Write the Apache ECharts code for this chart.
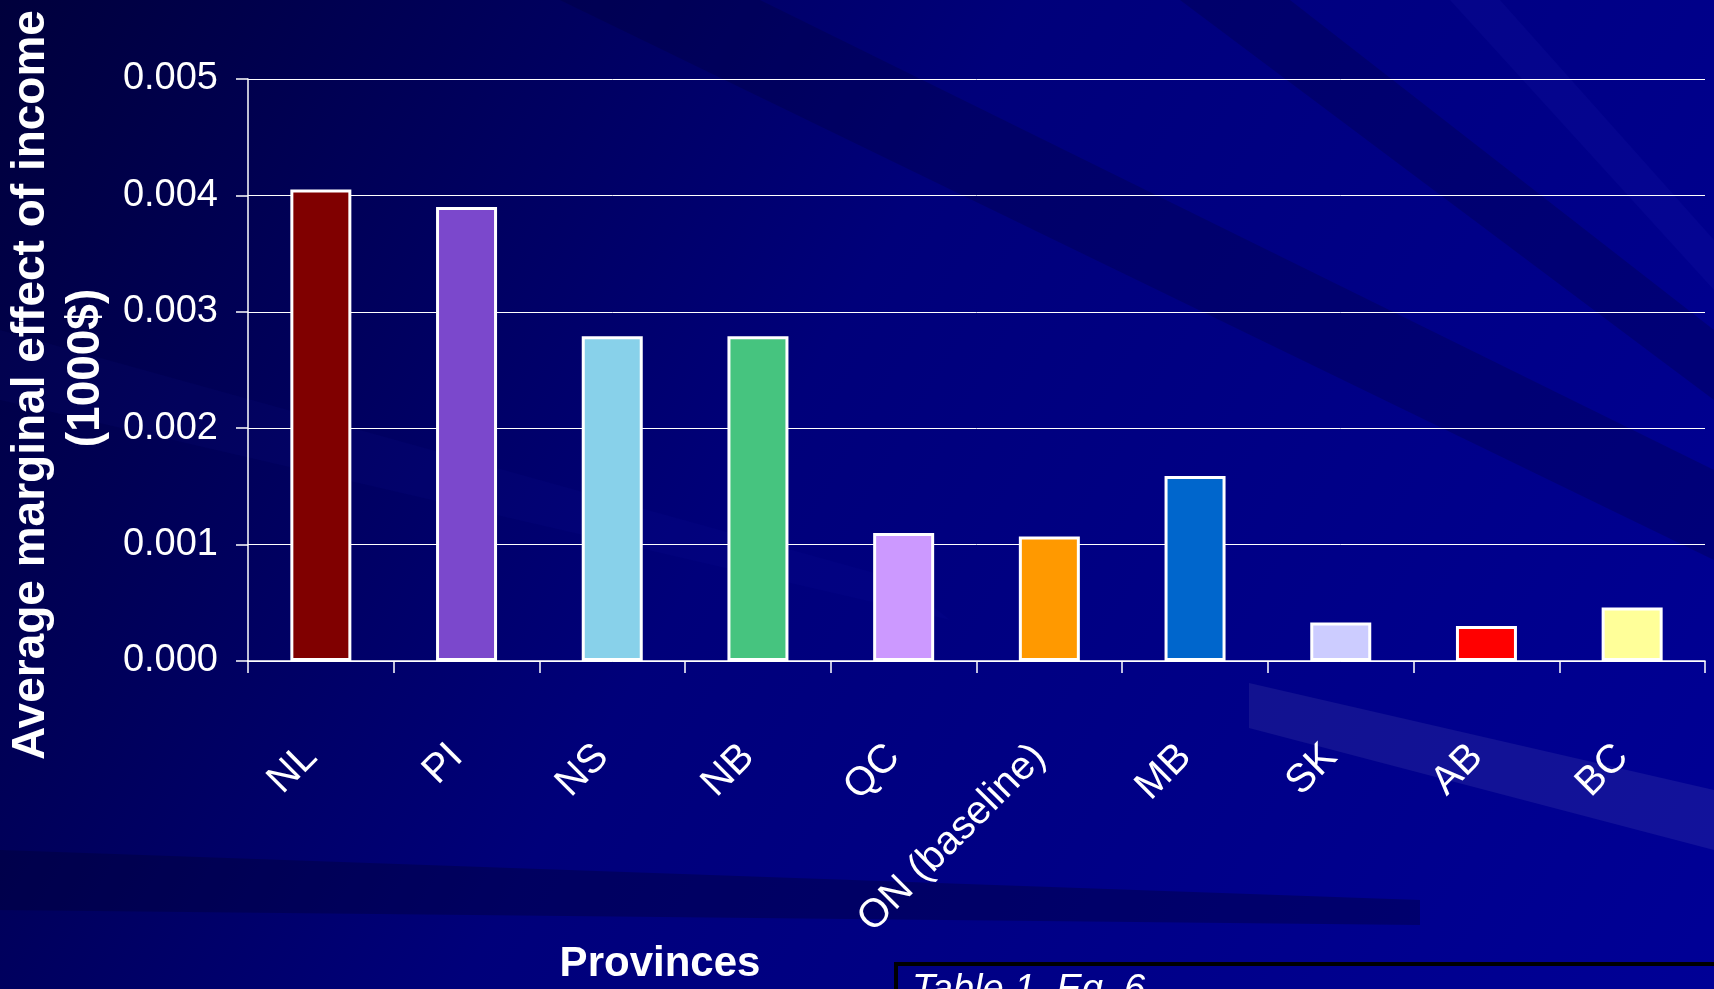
<!DOCTYPE html>
<html>
<head>
<meta charset="utf-8">
<title>Average marginal effect of income by province</title>
<script src="https://cdn.jsdelivr.net/npm/echarts@6/dist/echarts.min.js"></script>
<style>
  html, body { margin: 0; padding: 0; background: #000080; }
  #chart { width: 1714px; height: 989px; }
</style>
</head>
<body>
<div id="chart"></div>
<script>
// provinces along the x axis
const provinces = ["NL", "PI", "NS", "NB", "QC", "ON (baseline)", "MB", "SK", "AB", "BC"];
// average marginal effect of income (1000$)
const effects = [0.00405, 0.0039, 0.00279, 0.00279, 0.0011, 0.00107, 0.00159, 0.00033, 0.0003, 0.00046];
// one colour per bar
const barColors = ["#800000", "#7B48CC", "#88D1EA", "#46C47F", "#CC99FF", "#FF9900", "#0066CC", "#CCCCFF", "#FF0000", "#FFFF99"];

const FONT = "Liberation Sans, Arial, sans-serif";

const chart = echarts.init(document.getElementById("chart"));

// faint diagonal streaks of the slide background
const streaks = [
  { pts: [[560, 0], [760, 0], [1714, 470], [1714, 560]], fill: "rgba(0,0,40,0.22)" },
  { pts: [[1180, 0], [1290, 0], [1714, 330], [1714, 400]], fill: "rgba(0,0,40,0.22)" },
  { pts: [[1450, 0], [1500, 0], [1714, 240], [1714, 290]], fill: "rgba(60,60,220,0.08)" },
  { pts: [[0, 330], [0, 400], [950, 620], [900, 580]], fill: "rgba(40,40,200,0.06)" },
  { pts: [[0, 850], [0, 910], [1420, 925], [1420, 900]], fill: "rgba(0,0,50,0.35)" },
  { pts: [[1249, 683], [1714, 790], [1714, 850], [1249, 728]], fill: "rgba(255,255,255,0.07)" },
];

const option = {
  backgroundColor: new echarts.graphic.LinearGradient(0, 0, 1, 1, [
    { offset: 0, color: "#00003c" },
    { offset: 0.45, color: "#00007a" },
    { offset: 1, color: "#000096" },
  ]),
  animation: false,
  grid: { left: 248, right: 9, top: 79, bottom: 328 },
  xAxis: {
    type: "category",
    data: provinces,
    axisLine: { lineStyle: { color: "#fff", width: 1.5 } },
    axisTick: { show: true, length: 12, lineStyle: { color: "#fff", width: 1.5 } },
    axisLabel: {
      interval: 0,
      rotate: 45,
      color: "#fff",
      fontSize: 40,
      fontFamily: FONT,
      margin: 80,
      padding: [0, 14, 0, 0],
    },
  },
  yAxis: {
    type: "value",
    min: 0,
    max: 0.005,
    interval: 0.001,
    axisLine: { show: true, lineStyle: { color: "#fff", width: 1.5 } },
    axisTick: { show: true, length: 12, lineStyle: { color: "#fff", width: 1.5 } },
    splitLine: { lineStyle: { color: "#fff", width: 1 } },
    axisLabel: {
      color: "#fff",
      fontSize: 38,
      fontFamily: FONT,
      margin: 30,
      formatter: (v) => v.toFixed(3),
    },
  },
  series: [
    {
      type: "bar",
      barWidth: 61,
      z: 3,
      data: effects.map((v, i) => ({
        value: v,
        itemStyle: { color: barColors[i] },
      })),
      itemStyle: { borderColor: "#fff", borderWidth: 3 },
    },
  ],
  graphic: streaks.map((s) => ({
    type: "polygon",
    z: -10,
    silent: true,
    shape: { points: s.pts },
    style: { fill: s.fill },
  })).concat([
    // y axis title
    {
      type: "text", x: 31, y: 385, rotation: Math.PI / 2,
      style: { text: "Average marginal effect of income", fill: "#fff", font: "bold 46px " + FONT, align: "center", verticalAlign: "middle" },
    },
    {
      type: "text", x: 86, y: 368, rotation: Math.PI / 2,
      style: { text: "(1000$)", fill: "#fff", font: "bold 46px " + FONT, align: "center", verticalAlign: "middle" },
    },
    // x axis title
    {
      type: "text", x: 660, y: 964,
      style: { text: "Provinces", fill: "#fff", font: "bold 42px " + FONT, align: "center", verticalAlign: "middle" },
    },
    // source box
    {
      type: "rect", shape: { x: 896, y: 964, width: 900, height: 100 },
      style: { fill: "transparent", stroke: "#000", lineWidth: 4 },
    },
    {
      type: "text", x: 912, y: 971,
      style: { text: "Table 1, Eq. 6", fill: "#fff", font: "italic 38px " + FONT, align: "left", verticalAlign: "top" },
    },
  ]),
};

chart.setOption(option);
</script>
</body>
</html>
